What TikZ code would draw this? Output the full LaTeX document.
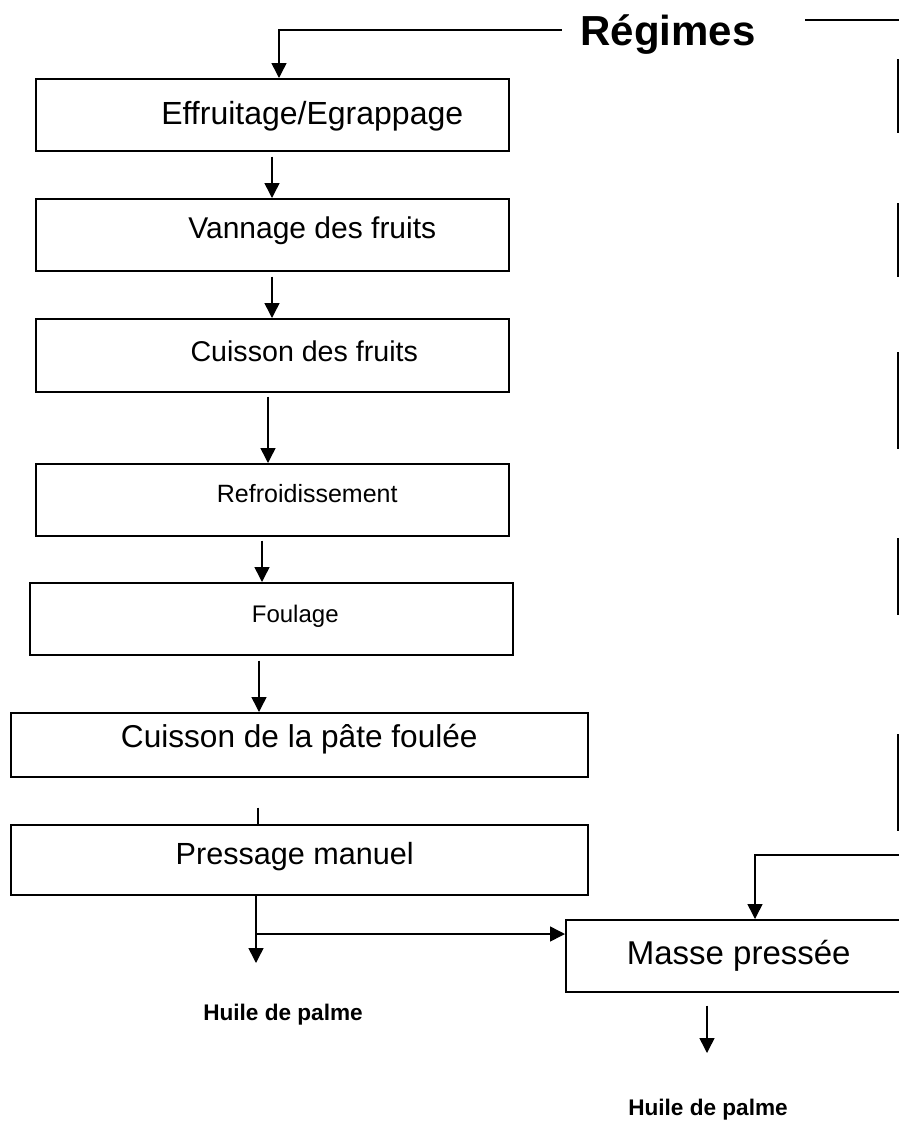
\documentclass[tikz,border=0pt]{standalone}
\usepackage{fontspec}
\setmainfont{Liberation Sans}
\usetikzlibrary{arrows.meta}
\begin{document}
\begin{tikzpicture}[x=1pt,y=-1pt,line width=1.5pt,
  stepbox/.style={draw,line width=1.5pt,anchor=north west,inner sep=0pt,align=center,text depth=0pt},
  arr/.style={-{Triangle[width=15pt,length=15pt]}},
  lbl/.style={font=\bfseries\fontsize{22.6}{24}\selectfont,anchor=base}]
\clip (0,0) rectangle (899,1125);
\fill[white] (0,0) rectangle (899,1125);
% title
\node[font=\bfseries\fontsize{42}{44}\selectfont,anchor=base,inner sep=0pt] (reg) at (668,45) {Régimes};
\coordinate (t1) at (279,30);
\draw[arr] ([xshift=-18pt]reg.west |- t1) -- (t1) -- (279,78);
\draw (805,20) -- (905,20);
% boxes
\node[stepbox,minimum width=473pt,minimum height=72pt,text height=19pt,font=\fontsize{32}{34}\selectfont] (b1) at (35,78) {\hspace*{80pt}Effruitage/Egrappage};
\node[stepbox,minimum width=473pt,minimum height=72pt,text height=7.6pt,font=\fontsize{30}{32}\selectfont] (b2) at (35,198) {\hspace*{80pt}Vannage des fruits};
\node[stepbox,minimum width=473pt,minimum height=73pt,text height=11.6pt,font=\fontsize{28.6}{30}\selectfont] (b3) at (35,318) {\hspace*{64pt}Cuisson des fruits};
\node[stepbox,minimum width=473pt,minimum height=72pt,text height=6pt,font=\fontsize{25}{30}\selectfont] (b4) at (35,463) {\hspace*{70pt}Refroidissement};
\node[stepbox,minimum width=483pt,minimum height=72pt,text height=7.2pt,font=\fontsize{24}{30}\selectfont] (b5) at (29,582) {\hspace*{48pt}Foulage};
\node[stepbox,minimum width=577pt,minimum height=64pt,text height=4.8pt,font=\fontsize{31.6}{33}\selectfont] (b6) at (10,712) {Cuisson de la pâte foulée};
\node[stepbox,minimum width=577pt,minimum height=70pt,text height=10pt,font=\fontsize{30.6}{32}\selectfont] (b7) at (10,824) {Pressage manuel\hspace*{9pt}};
\node[stepbox,minimum width=346pt,minimum height=72pt,text height=17.8pt,font=\fontsize{33}{34}\selectfont] (m) at (565,919) {Masse pressée};
% arrows
\draw[arr] ([shift={(237,5)}]b1.south west) -- ([shift={(237,0)}]b2.north west);
\draw[arr] ([shift={(237,5)}]b2.south west) -- ([shift={(237,0)}]b3.north west);
\draw[arr] ([shift={(233,4)}]b3.south west) -- ([shift={(233,0)}]b4.north west);
\draw[arr] ([shift={(227,4)}]b4.south west) -- ([shift={(233,0)}]b5.north west);
\draw[arr] ([shift={(230,5)}]b5.south west) -- ([shift={(249,0)}]b6.north west);
\draw ([shift={(248,30)}]b6.south west) -- ([shift={(248,0)}]b7.north west);
\coordinate (tip1) at (256,963);
\coordinate (br) at (256,934);
\draw[arr] (b7.south west -| br) -- (tip1);
\draw[arr] (br) -- (m.west |- br);
\coordinate (rin) at (905,855);
\draw[arr] (rin) -- (755,855) -- (m.north west -| 755,0);
\coordinate (tip2) at (707,1053);
\draw[arr] ([shift={(142,13)}]m.south west) -- (tip2);
% right column (cut-off boxes)
\foreach \a/\b in {59/133,203/277,352/449,538/615,734/831}
  \draw (898,\a) -- (898,\b);
% outputs
\node[lbl] (h1) at (283,1020) {Huile de palme};
\node[lbl] (h2) at (708,1115) {Huile de palme};
\end{tikzpicture}
\end{document}
